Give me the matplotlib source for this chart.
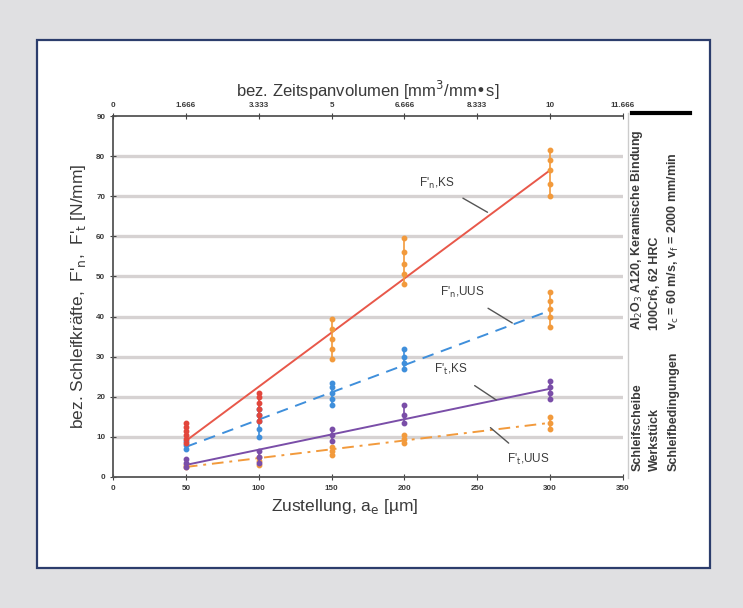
import matplotlib.pyplot as plt
from matplotlib.patches import Rectangle
from matplotlib.lines import Line2D

plt.rcParams['font.family'] = ['Liberation Sans', 'DejaVu Sans']

# measured points (vertical scatter per feed)
x_feed = [50, 100, 150, 200, 300]
fn_ks = [[8.5, 9.5, 10.5, 11.5, 12.5, 13.5],
         [14, 15.5, 17, 18.5, 20, 21],
         [29.5, 32, 34.5, 37, 39.5],
         [48, 50.5, 53, 56, 59.5],
         [70, 73, 76.5, 79, 81.5]]
fn_uus = [[7, 8, 9],
          [10, 12, 14, 15.5, 17],
          [18, 19.5, 21, 22.5, 23.5],
          [27, 28.5, 30, 32],
          [37.5, 40, 42, 44, 46]]
ft_ks = [[2.5, 3.5, 4.5],
         [3.5, 5, 6.5],
         [9, 10.5, 12],
         [13.5, 15.5, 18],
         [19.5, 21, 22.5, 24]]
ft_uus = [[2.5, 3],
          [3, 4, 5],
          [5.5, 6.5, 7.5],
          [8.5, 9.5, 10.5],
          [12, 13.5, 15]]

# fitted lines
fit_x = [50, 300]
fit_fn_ks = [9, 76.5]
fit_fn_uus = [7.5, 41.5]
fit_ft_ks = [3, 22]
fit_ft_uus = [2.5, 13.5]

# marker colours per feed
col_fn_ks = ['#e2463c', '#e2463c', '#f29a3c', '#f29a3c', '#f29a3c']
col_fn_uus = ['#3f8fdb', '#3f8fdb', '#3f8fdb', '#3f8fdb', '#f29a3c']
col_ft_ks = ['#7a4ea8'] * 5
col_ft_uus = ['#f29a3c'] * 5

top_ticks = [0, 50, 100, 150, 200, 250, 300, 350]
top_labels = ['0', '1.666', '3.333', '5', '6.666', '8.333', '10', '11.666']

txt_col = '#3a3a3a'

fig = plt.figure(figsize=(7.43, 6.08), dpi=100)
fig.patch.set_facecolor('#e0e0e2')
fig.patches.append(Rectangle((0.0498, 0.0658), 0.9058, 0.8684, transform=fig.transFigure,
                             facecolor='white', edgecolor='#2c3d6c', linewidth=1.6, zorder=-5))

ax = fig.add_axes([0.1521, 0.2155, 0.6864, 0.5937])
ax.set_xlim(0, 350)
ax.set_ylim(0, 90)
ax.set_xticks(range(0, 351, 50))
ax.set_yticks(range(0, 91, 10))
ax.tick_params(labelsize=5.8, direction='inout', length=4, color='#444444', labelcolor=txt_col)
for lab in ax.get_xticklabels() + ax.get_yticklabels():
    lab.set_fontweight('bold')
for y in range(10, 90, 10):
    ax.axhline(y, color='#d6d2d2', linewidth=2.4, zorder=0)
for s in ['left', 'bottom', 'top']:
    ax.spines[s].set_color('#555555')
    ax.spines[s].set_linewidth(1.3)
ax.spines['right'].set_visible(False)

ax.plot(fit_x, fit_fn_ks, color='#e8584a', lw=1.4, zorder=2)
ax.plot(fit_x, fit_fn_uus, color='#3f8fdb', lw=1.4, ls=(0, (6, 4)), zorder=2)
ax.plot(fit_x, fit_ft_ks, color='#7a4ea8', lw=1.4, zorder=2)
ax.plot(fit_x, fit_ft_uus, color='#f29a3c', lw=1.4, ls=(0, (6, 3, 1.5, 3)), zorder=2)

for series, cols in [(ft_uus, col_ft_uus), (ft_ks, col_ft_ks), (fn_uus, col_fn_uus), (fn_ks, col_fn_ks)]:
    for xv, vals, c in zip(x_feed, series, cols):
        ax.plot([xv] * len(vals), vals, color=c, lw=1.2, marker='o', ms=3.2, zorder=3)

ann = [("F'$_{\\rm n}$,KS", (222, 73.3), (257, 66)),
       ("F'$_{\\rm n}$,UUS", (240, 45.9), (274, 38.4)),
       ("F'$_{\\rm t}$,KS", (232, 26.7), (263, 19.2)),
       ("F'$_{\\rm t}$,UUS", (285, 4.3), (259, 12.3))]
for txt, tpos, ppos in ann:
    ax.annotate(txt, xy=ppos, xytext=tpos, fontsize=8.5, color=txt_col, ha='center', va='center',
                arrowprops=dict(arrowstyle='-', color='#555555', lw=1.0, shrinkA=7, shrinkB=0))

ax.set_xlabel('Zustellung, a$_{\\rm e}$ [µm]', fontsize=12.5, color=txt_col)
ax.xaxis.set_label_coords(0.455, -0.055)
ax.set_ylabel("bez. Schleifkräfte,  F'$_{\\rm n}$,  F'$_{\\rm t}$ [N/mm]", fontsize=12.5, color=txt_col, labelpad=6)

ax2 = ax.twiny()
ax2.set_xlim(0, 350)
ax2.set_xticks(top_ticks)
ax2.set_xticklabels(top_labels)
ax2.tick_params(labelsize=5.8, direction='inout', length=4, color='#444444', labelcolor=txt_col, pad=3)
for lab in ax2.get_xticklabels():
    lab.set_fontweight('bold')
for s in ax2.spines.values():
    s.set_visible(False)
ax2.set_xlabel('bez. Zeitspanvolumen [mm$^3$/mm•s]', fontsize=12, color=txt_col, labelpad=4)

# right info panel
fig.add_artist(Line2D([0.845, 0.845], [0.214, 0.814], color='#cccccc', lw=1.0, transform=fig.transFigure))
fig.add_artist(Line2D([0.851, 0.929], [0.814, 0.814], color='black', lw=3, transform=fig.transFigure))
cols_x = [0.858, 0.882, 0.906]
left_txt = ['Schleifscheibe', 'Werkstück', 'Schleifbedingungen']
right_txt = ['Al$_2$O$_3$ A120, Keramische Bindung', '100Cr6, 62 HRC',
             'v$_{\\rm c}$ = 60 m/s, v$_{\\rm f}$ = 2000 mm/min']
for cx, lt, rt in zip(cols_x, left_txt, right_txt):
    fig.text(cx, 0.226, lt, rotation=90, fontsize=9, color=txt_col, ha='center', va='bottom',
             fontweight='bold')
    fig.text(cx, 0.458, rt, rotation=90, fontsize=9, color=txt_col, ha='center', va='bottom',
             fontweight='bold')

fig.savefig('out.png', dpi=100)
